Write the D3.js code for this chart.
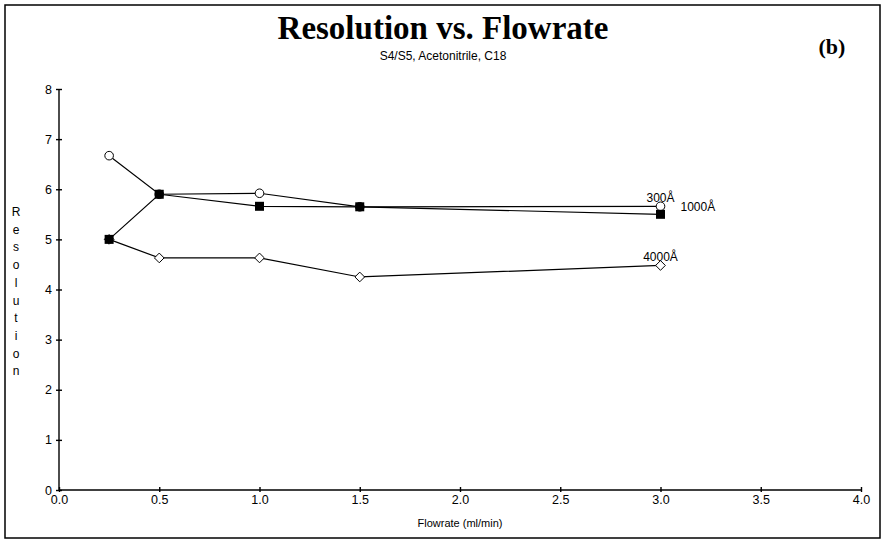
<!DOCTYPE html>
<html>
<head>
<meta charset="utf-8">
<script src="https://cdn.jsdelivr.net/npm/d3@7"></script>
<style>
  body { margin: 0; background: #fff; }
  svg { display: block; }
  .axis path, .axis line { stroke: #000; stroke-width: 1.4; }
  .axis text { font-family: "Liberation Sans", Arial, sans-serif; font-size: 12px; fill: #000; }
</style>
</head>
<body>
<div id="wrapper"></div>
<script>
// data
const flowrates = [0.25, 0.5, 1.0, 1.5, 3.0];
const res300 = [6.67, 5.9, 5.92, 5.65, 5.66];
const res1000 = [5.0, 5.9, 5.66, 5.65, 5.5];
const res4000 = [5.0, 4.63, 4.63, 4.25, 4.48];
const seriesNames = ["300Å", "1000Å", "4000Å"];
const xTicks = [0, 0.5, 1, 1.5, 2, 2.5, 3, 3.5, 4];
const yTicks = [0, 1, 2, 3, 4, 5, 6, 7, 8];

function drawChart() {
    const dimensions = {
        width: 882,
        height: 539,
        margin: { top: 89, right: 21, bottom: 49, left: 59 },
    };
    dimensions.boundedWidth = dimensions.width - dimensions.margin.left - dimensions.margin.right;
    dimensions.boundedHeight = dimensions.height - dimensions.margin.top - dimensions.margin.bottom;

    const wrapper = d3.select("#wrapper")
        .append("svg")
        .attr("width", dimensions.width)
        .attr("height", dimensions.height);

    // outer frame
    wrapper.append("rect")
        .attr("x", 5).attr("y", 5)
        .attr("width", 875).attr("height", 533)
        .attr("fill", "none")
        .attr("stroke", "#000")
        .attr("stroke-width", 1.5);

    // titles
    wrapper.append("text")
        .attr("x", 443).attr("y", 39)
        .attr("text-anchor", "middle")
        .style("font-family", "'Liberation Serif', 'Times New Roman', serif")
        .style("font-weight", "bold")
        .style("font-size", "33px")
        .text("Resolution vs. Flowrate");

    wrapper.append("text")
        .attr("x", 443).attr("y", 60)
        .attr("text-anchor", "middle")
        .style("font-family", "'Liberation Sans', Arial, sans-serif")
        .style("font-size", "12px")
        .text("S4/S5, Acetonitrile, C18");

    wrapper.append("text")
        .attr("x", 832).attr("y", 54)
        .attr("text-anchor", "middle")
        .style("font-family", "'Liberation Serif', 'Times New Roman', serif")
        .style("font-weight", "bold")
        .style("font-size", "22px")
        .text("(b)");

    const bounds = wrapper.append("g")
        .attr("transform", `translate(${dimensions.margin.left}, ${dimensions.margin.top})`);

    // scales
    const xScale = d3.scaleLinear()
        .domain([0, 4])
        .range([0, dimensions.boundedWidth]);
    const yScale = d3.scaleLinear()
        .domain([0, 8])
        .range([dimensions.boundedHeight, 0]);

    // axes
    const yAxis = bounds.append("g")
        .attr("class", "y-axis axis")
        .call(d3.axisLeft(yScale).tickValues(yTicks).tickFormat(d3.format("d")).tickSize(3).tickPadding(4));
    yAxis.selectAll(".tick line").attr("x1", 3);
    yAxis.select(".domain").attr("d", `M0,${yScale(0)}V${yScale(8)}`);
    yAxis.selectAll("text").style("font-size", "12.5px");

    const xAxis = bounds.append("g")
        .attr("class", "x-axis axis")
        .attr("transform", `translate(0, ${dimensions.boundedHeight})`)
        .call(d3.axisBottom(xScale).tickValues(xTicks).tickFormat(d3.format(".1f")).tickSize(2).tickPadding(3));
    xAxis.selectAll(".tick line").attr("y1", -3);
    xAxis.select(".domain").attr("d", `M0,0H${xScale(4)}`);
    xAxis.selectAll("text").style("font-size", "12.5px");

    xAxis.append("text")
        .attr("x", xScale(2))
        .attr("y", 37)
        .style("text-anchor", "middle")
        .style("font-size", "11px")
        .text("Flowrate (ml/min)");

    // vertical stacked y label
    const yLabel = wrapper.append("text")
        .style("font-family", "'Liberation Sans', Arial, sans-serif")
        .style("font-size", "12px")
        .attr("text-anchor", "middle");
    "Resolution".split("").forEach((ch, i) => {
        yLabel.append("tspan")
            .attr("x", 16)
            .attr("y", 216 + i * 17.7)
            .text(ch);
    });

    const seriesValues = [res300, res1000, res4000];
    const data = seriesValues.map((vals, s) =>
        flowrates.map((f, i) => ({ x: f, y: vals[i], series: s })));

    const lineGenerator = d3.line()
        .x(d => xScale(d.x))
        .y(d => yScale(d.y));

    data.forEach(series => {
        bounds.append("path")
            .attr("d", lineGenerator(series))
            .attr("fill", "none")
            .attr("stroke", "#000")
            .attr("stroke-width", 1.2);
    });

    // markers: circles (300), diamonds (4000), squares (1000) on top
    bounds.selectAll(".pt300")
        .data(data[0])
        .enter().append("circle")
        .attr("cx", d => xScale(d.x))
        .attr("cy", d => yScale(d.y))
        .attr("r", 4.3)
        .attr("fill", "#fff")
        .attr("stroke", "#000")
        .attr("stroke-width", 1);

    const diamond = d3.symbol().type(d3.symbolDiamond2).size(60);
    bounds.selectAll(".pt4000")
        .data(data[2])
        .enter().append("path")
        .attr("transform", d => `translate(${xScale(d.x)}, ${yScale(d.y)})`)
        .attr("d", diamond)
        .attr("fill", "#fff")
        .attr("stroke", "#000")
        .attr("stroke-width", 1);

    bounds.selectAll(".pt1000")
        .data(data[1])
        .enter().append("rect")
        .attr("x", d => xScale(d.x) - 4.5)
        .attr("y", d => yScale(d.y) - 4.5)
        .attr("width", 9)
        .attr("height", 9)
        .attr("fill", "#000");

    // series labels at the end of each line
    const labelFont = "'Liberation Sans', Arial, sans-serif";
    const lastX = flowrates[flowrates.length - 1];
    const labelSpecs = [
        { name: seriesNames[0], x: xScale(lastX), y: yScale(res300[4]) - 4, anchor: "middle" },
        { name: seriesNames[1], x: xScale(lastX) + 20, y: yScale(res1000[4]) - 3, anchor: "start" },
        { name: seriesNames[2], x: xScale(lastX), y: yScale(res4000[4]) - 4, anchor: "middle" },
    ];
    labelSpecs.forEach(l => {
        bounds.append("text")
            .attr("x", l.x)
            .attr("y", l.y)
            .attr("text-anchor", l.anchor)
            .style("font-family", labelFont)
            .style("font-size", "12px")
            .text(l.name);
    });
}

drawChart();
</script>
</body>
</html>
